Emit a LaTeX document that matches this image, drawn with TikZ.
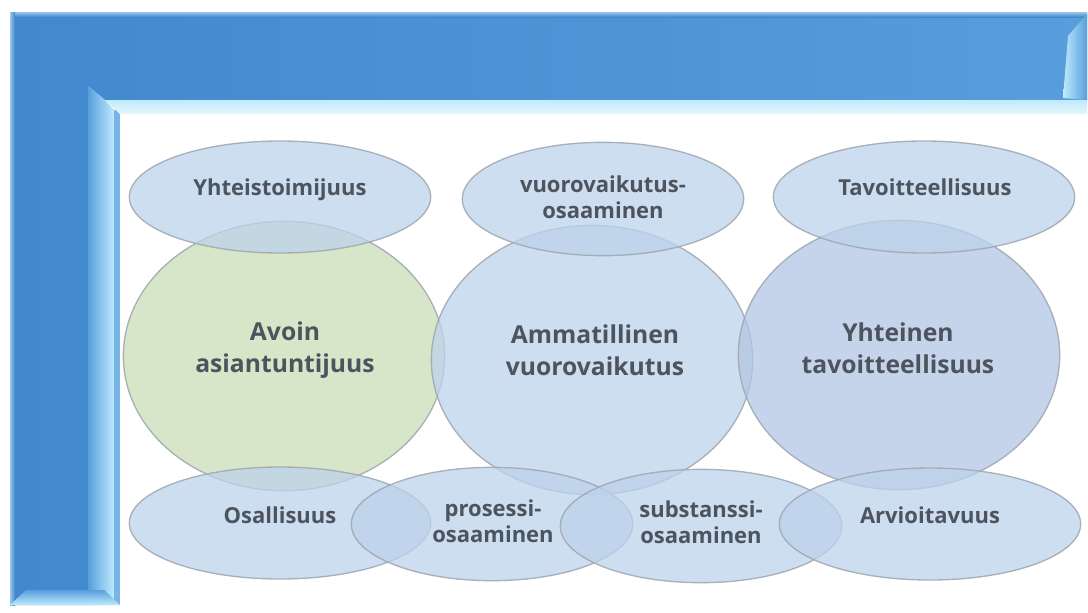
\documentclass[tikz,border=0pt]{standalone}
\usepackage{fontspec}
\setmainfont{Open Sans}
\usepackage{tikz}
\usetikzlibrary{shapes.geometric,positioning}
\definecolor{bubBlue}{RGB}{188,211,235}
\definecolor{bubGreen}{RGB}{202,222,182}
\definecolor{bubSlate}{RGB}{178,198,227}
\definecolor{edgeGrey}{RGB}{158,166,176}
\definecolor{txtGrey}{RGB}{78,84,94}
\definecolor{frameDark}{RGB}{66,136,205}
\definecolor{frameMid}{RGB}{88,158,220}
\definecolor{frameLight}{RGB}{190,235,253}
\definecolor{framePale}{RGB}{232,245,252}
\tikzstyle{bubble}      =[ellipse,draw=edgeGrey,line width=1pt,fill=bubBlue,fill opacity=0.75,draw opacity=0.85,inner sep=0pt,minimum width=226pt,minimum height=84pt]
\tikzstyle{narrowBubble}=[bubble,minimum width=211pt,minimum height=85pt]
\tikzstyle{bigBubble}   =[bubble,minimum width=241pt,minimum height=202pt]
\tikzstyle{smallText}   =[text=txtGrey,font=\fontsize{16.5}{19.5}\selectfont\bfseries,align=center,anchor=base]
\tikzstyle{bigText}     =[smallText,font=\fontsize{18.5}{24}\selectfont\bfseries]

\begin{document}
\begin{tikzpicture}[x=0.75pt,y=-0.75pt]
  \useasboundingbox (0,0) rectangle (1088,612);
  \fill[white] (0,0) rectangle (1088,612);
  % frame
  \shade[left color=frameDark,right color=frameMid]
    (10,12) -- (1087,12) -- (1087,100) -- (105,100) -- (88,86) -- (88,605) -- (10,605) -- cycle;
  \shade[top color=frameMid!60!white,bottom color=frameDark] (10,12) rectangle (1087,17);
  \shade[left color=frameMid!60!white,right color=frameDark] (10,12) rectangle (15,605);
  \shade[left color=frameMid,right color=frameLight] (88,86) -- (105,100) -- (114,110) -- (114,605) -- (88,605) -- cycle;
  \fill[frameMid!70!frameLight] (114,110) rectangle (120,605);
  \shade[top color=frameLight,bottom color=framePale] (105,100) -- (1087,100) -- (1087,114) -- (120,114) -- cycle;
  \shade[left color=frameLight,right color=frameMid] (1087,14) -- (1068,36) -- (1063,98) -- (1087,100) -- cycle;
  \shade[top color=frameMid,bottom color=frameLight] (10,605) -- (26,590) -- (104,590) -- (120,605) -- cycle;

  % middle circles
  \node[bigBubble,fill=bubGreen] (avoin) at (284,356) {};
  \node[bigBubble]               (ammat) at (592,360) {};
  \node[bigBubble,fill=bubSlate] (yhtei) at (899,355) {};
  % top row
  \node[bubble]       (yhteis) at (280,197) {};
  \node[narrowBubble] (vuoro)  at (603,199) {};
  \node[bubble]       (tavoit) at (924,197) {};
  % bottom row
  \node[bubble]       (osall)  at (280,523) {};
  \node[narrowBubble] (prosess) at (492,524) {};
  \node[narrowBubble] (substan) at (701,526) {};
  \node[bubble]       (arvio)  at (930,524) {};

  % labels (base = last line)
  \node[smallText] (tYhteis)  at (280,195) {Yhteistoimijuus};
  \node[smallText] (tVuoro)   at (603,218) {vuorovaikutus-\\osaaminen};
  \node[smallText] (tTavoit)  at (925,195) {Tavoitteellisuus};
  \node[bigText]   (tAvoin)   at (285,372) {Avoin\\asiantuntijuus};
  \node[bigText]   (tAmmat)   at (595,375) {Ammatillinen\\vuorovaikutus};
  \node[bigText]   (tYhtei)   at (898,373) {Yhteinen\\tavoitteellisuus};
  \node[smallText] (tOsall)   at (280,523) {Osallisuus};
  \node[smallText] (tProsess) at (493,542) {prosessi-\\osaaminen};
  \node[smallText] (tSubstan) at (701,543) {substanssi-\\osaaminen};
  \node[smallText] (tArvio)   at (930,523) {Arvioitavuus};
\end{tikzpicture}
\end{document}
